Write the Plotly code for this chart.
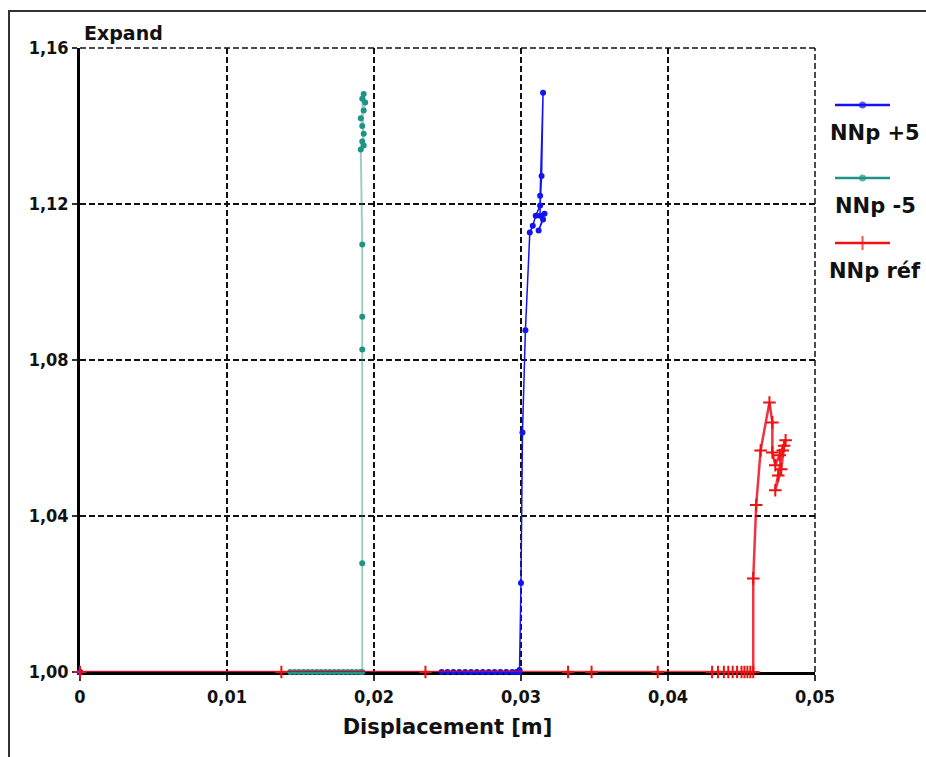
import plotly.graph_objects as go

# ---------------- data ----------------
series_names = ["NNp +5", "NNp -5", "NNp réf"]

blue_x = [0.0, 0.0246, 0.0250, 0.0254, 0.0258, 0.0262, 0.0266, 0.0270, 0.0274, 0.0278,
          0.0282, 0.0286, 0.0290, 0.0294, 0.0297, 0.0299, 0.0299, 0.0300, 0.0301, 0.0303,
          0.0306, 0.0308, 0.0310, 0.0313, 0.0314, 0.0315, 0.0313, 0.0313, 0.0316, 0.0312, 0.0315]
blue_y = [1.0, 1.0, 1.0, 1.0, 1.0, 1.0, 1.0, 1.0, 1.0, 1.0,
          1.0, 1.0, 1.0, 1.0, 1.0, 1.0, 1.0005, 1.0228, 1.0614, 1.0876,
          1.1127, 1.1144, 1.1170, 1.1196, 1.1272, 1.1485, 1.1221, 1.1170, 1.1175, 1.1132, 1.1160]

teal_x = [0.0, 0.0143, 0.0146, 0.0149, 0.0152, 0.0155, 0.0158, 0.0161, 0.0164, 0.0167,
          0.0170, 0.0173, 0.0176, 0.0179, 0.0182, 0.0185, 0.0188, 0.0191, 0.0192, 0.0192,
          0.0192, 0.0192, 0.0192, 0.0191, 0.0192, 0.0193, 0.0192, 0.0191, 0.0193, 0.0194,
          0.0193, 0.0192, 0.0193]
teal_y = [1.0, 1.0, 1.0, 1.0, 1.0, 1.0, 1.0, 1.0, 1.0, 1.0,
          1.0, 1.0, 1.0, 1.0, 1.0, 1.0, 1.0, 1.0, 1.0, 1.0279,
          1.0827, 1.0911, 1.1096, 1.1340, 1.1360, 1.1380, 1.1400, 1.1420, 1.1440, 1.1460,
          1.1482, 1.1470, 1.1350]

red_x = [0.0, 0.0137, 0.0235, 0.0332, 0.0348, 0.0393, 0.0430, 0.0434, 0.0438, 0.0441,
         0.0444, 0.0447, 0.0450, 0.0452, 0.0454, 0.0456, 0.0458, 0.0458, 0.0460, 0.0463,
         0.0469, 0.0471, 0.0471, 0.0473, 0.0476, 0.0480, 0.0478, 0.0475, 0.0473, 0.0477,
         0.0479]
red_y = [1.0, 1.0, 1.0, 1.0, 1.0, 1.0, 1.0, 1.0, 1.0, 1.0,
         1.0, 1.0, 1.0, 1.0, 1.0, 1.0, 1.0, 1.0240, 1.0428, 1.0568,
         1.0691, 1.0640, 1.0563, 1.0530, 1.0556, 1.0594, 1.0568, 1.0504, 1.0466, 1.0520,
         1.0580]

x_ticks = [0.0, 0.01, 0.02, 0.03, 0.04, 0.05]
x_tick_text = ["0", "0,01", "0,02", "0,03", "0,04", "0,05"]
y_ticks = [1.00, 1.04, 1.08, 1.12, 1.16]
y_tick_text = ["1,00", "1,04", "1,08", "1,12", "1,16"]

legend_sample_x = [0.0, 0.5, 1.0]
legend_sample_y = [105, 178, 243]   # legend rows (pixel scale of legend axis)
legend_text_y = [133, 206, 271]

# ---------------- styles ----------------
BLUE = "#1414f0"
TEAL = "#1f9486"
RED = "#f01010"
tick_font = dict(family="DejaVu Sans Condensed, Liberation Sans Narrow, sans-serif",
                 size=18, color="#111", weight="bold")
label_font = dict(family="DejaVu Sans, sans-serif", size=21, color="#111", weight="bold")
GRID_DASH = "6px,3px"

W, H = 926, 757
ML, MR, MT, MB = 80, 6, 48, 85
plot_w = W - ML - MR
main_dom = (815 - ML) / plot_w
X_RANGE = [0, 0.05]
Y_RANGE = [1.0, 1.16]

fig = go.Figure()

fig.add_trace(go.Scatter(x=teal_x, y=teal_y, mode="lines+markers", name=series_names[1],
                         line=dict(color="rgba(31,148,134,0.45)", width=2),
                         marker=dict(color=TEAL, size=6, symbol="circle"),
                         cliponaxis=False, showlegend=False))
fig.add_trace(go.Scatter(x=blue_x, y=blue_y, mode="lines+markers", name=series_names[0],
                         line=dict(color=BLUE, width=1.5),
                         marker=dict(color=BLUE, size=6, symbol="circle"),
                         cliponaxis=False, showlegend=False))
fig.add_trace(go.Scatter(x=red_x, y=red_y, mode="lines+markers", name=series_names[2],
                         line=dict(color="rgba(235,0,20,0.8)", width=2.5),
                         marker=dict(color=RED, size=9, symbol="cross-thin",
                                     line=dict(color=RED, width=2)),
                         cliponaxis=False, showlegend=False))

# custom legend (samples above labels)
leg_styles = [
    (BLUE, "circle", 7, 0),
    (TEAL, "circle", 7, 0),
    (RED, "cross-thin", 10, 2),
]
for name, ly, ty, (col, sym, sz, lw) in zip(series_names, legend_sample_y, legend_text_y, leg_styles):
    fig.add_trace(go.Scatter(x=legend_sample_x, y=[ly] * 3, xaxis="x2", yaxis="y2",
                             mode="lines+markers", line=dict(color=col, width=2.5),
                             marker=dict(color=col, size=[0, sz, 0], symbol=sym,
                                         line=dict(color=col, width=lw)),
                             showlegend=False, hoverinfo="skip"))
    fig.add_annotation(x=(875 - ML) / plot_w, xref="paper", y=ty, yref="y2", text=name,
                       showarrow=False, font=label_font, xanchor="center", yanchor="middle")

fig.add_annotation(x=0.0, xref="paper", y=1.0, yref="paper",
                   text="Expand", showarrow=False, xanchor="left", yanchor="bottom",
                   xshift=2, yshift=2,
                   font=dict(family="DejaVu Sans, sans-serif", size=19,
                             color="#111", weight="bold"))

# dashed top and right borders of the plot area (paper refs so they are not clipped)
fig.add_shape(type="line", xref="paper", yref="paper", x0=0, x1=main_dom, y0=1, y1=1,
              line=dict(color="#111", width=1.5, dash=GRID_DASH))
fig.add_shape(type="line", xref="paper", yref="paper", x0=main_dom, x1=main_dom, y0=0, y1=1,
              line=dict(color="#111", width=1.5, dash=GRID_DASH), layer="below")

# outer frame (left and top edges visible)
fig.add_shape(type="rect", xref="paper", yref="paper",
              x0=(9 - ML) / plot_w, x1=(1300 - ML) / plot_w,
              y0=(672 - 1000) / (672 - 48), y1=(672 - 11) / (672 - 48),
              line=dict(color="#333", width=2), fillcolor="rgba(0,0,0,0)", layer="below")

fig.update_layout(
    width=W, height=H,
    margin=dict(l=ML, r=MR, t=MT, b=MB, autoexpand=False),
    paper_bgcolor="white", plot_bgcolor="white",
    xaxis=dict(domain=[0, main_dom], range=X_RANGE, tickvals=x_ticks, ticktext=x_tick_text,
               showgrid=True, gridcolor="#111", griddash=GRID_DASH, gridwidth=1.5,
               showline=True, linecolor="#000", linewidth=3, zeroline=False,
               ticks="outside", ticklen=6, tickcolor="#333", tickwidth=1.5,
               tickfont=tick_font, layer="below traces", automargin=False,
               title=dict(text="Displacement [m]", standoff=14,
                          font=dict(family="DejaVu Sans, sans-serif", size=21,
                                    color="#111", weight="bold"))),
    yaxis=dict(range=Y_RANGE, tickvals=y_ticks, ticktext=y_tick_text,
               showgrid=True, gridcolor="#111", griddash=GRID_DASH, gridwidth=1.5,
               showline=True, linecolor="#000", linewidth=2.5, zeroline=False,
               ticks="outside", ticklen=5, tickcolor="#333", tickwidth=1.5,
               tickfont=tick_font, layer="below traces", automargin=False),
    xaxis2=dict(domain=[(835 - ML) / plot_w, (890 - ML) / plot_w], range=[0, 1],
                visible=False, anchor="y2"),
    yaxis2=dict(domain=[0, 1], range=[672, 48], visible=False, anchor="x2"),
)

fig.write_html("out.html")
